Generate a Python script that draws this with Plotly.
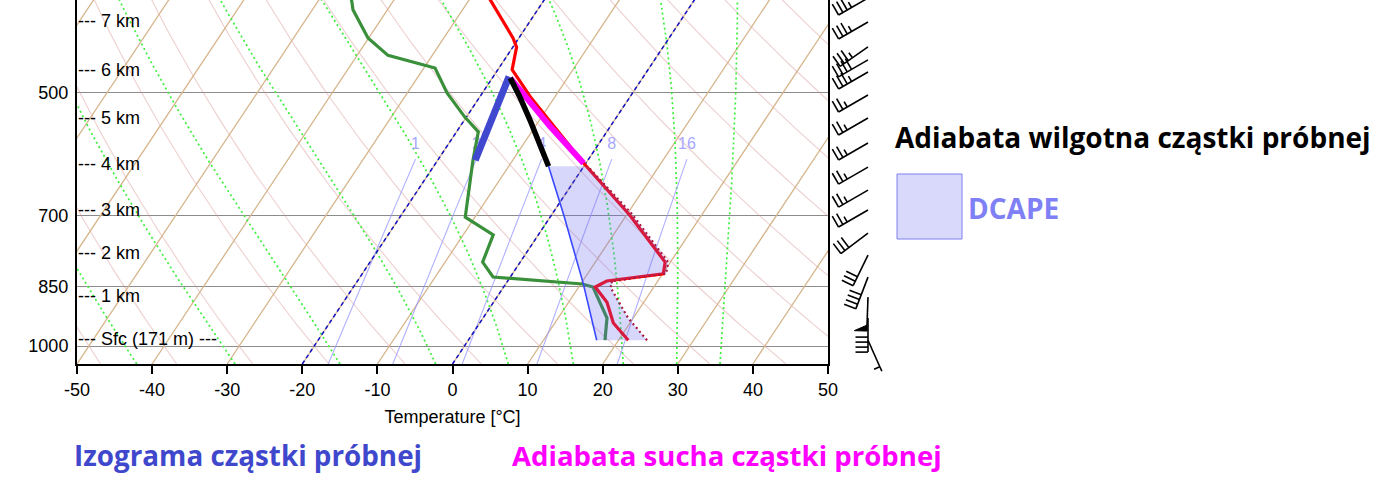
import numpy as np
import plotly.graph_objects as go

# ---------------- sounding data ----------------
temp_p = [984, 939, 887, 851, 844, 837, 821, 795, 699, 606, 506, 470, 442, 431, 389, 370]
temp_T = [21.3, 17.8, 15.1, 12.2, 12.7, 13.2, 20.1, 19.3, 10.4, -0.4, -13.3, -18.1, -19.5, -20.8, -27.1, -30.2]

dewp_p = [984, 926, 851, 844, 828, 795, 738, 703, 602, 557, 535, 501, 468, 452, 431, 399, 389, 375]
dewp_T = [18.2, 16.5, 11.9, 10.2, -2.3, -5.0, -6.0, -11.3, -15.3, -17.1, -20.2, -24.7, -28.5, -35.9, -40.1, -44.6, -45.6, -47.5]

virt_p = [984, 926, 851, 842, 838, 820, 815, 795, 697, 612]
virt_T = [23.8, 19.3, 14.2, 14.2, 13.8, 20.5, 20.3, 19.7, 10.6, 0.5]

# downdraft (DCAPE) parcel path
dd_p = [612, 700, 843, 984]
dd_T = [-4.7, 1.7, 10.3, 17.1]

# parcel lines
dry_parcel_p = [607, 549, 481]
dry_parcel_T = [-0.3, -8.0, -17.6]
moist_parcel_p = [481, 506, 539, 575, 612]
moist_parcel_T = [-17.6, -14.7, -11.3, -7.9, -4.7]
mix_parcel_p = [602, 535, 479]
mix_parcel_T = [-15.0, -16.45, -17.9]

# wind barbs
wind_p = [386.5, 412.6, 441.7, 457.7, 473.0, 503.7, 536.4, 574.2, 613.3, 653.0, 689.6, 734.5, 779.9, 828.2, 874.7, 926.3, 984]
wind_dir = [240, 240, 235, 240, 240, 240, 240, 240, 240, 240, 240, 233, 206, 201, 182, 180, 156]
wind_spd = [35, 35, 35, 40, 35, 25, 25, 25, 25, 25, 25, 30, 30, 40, 50, 40, 5]

# diagram background definitions
isotherms = list(range(-90, 51, 10))
highlight_isotherms = [-20, 0]
dry_adiabats_C = list(range(-50, 121, 10))
moist_start_T = [-42.05, -28.96, -14.98, -2.24, 7.43, 16.09, 22.74, 29.85, 35.62]  # at 1050 hPa
mixing_ratios = [1, 2, 4, 8, 16]
isobars = [500, 700, 850, 1000]
height_p = [411.5, 470.4, 536.4, 608.2, 689.7, 775.6, 872.3, 981]
height_txt = ["--- 7 km", "--- 6 km", "--- 5 km", "--- 4 km", "--- 3 km", "--- 2 km", "--- 1 km", "--- Sfc (171 m) ---"]
x_ticks = list(range(-50, 51, 10))

# ---------------- layout constants ----------------
W, H = 1386, 485
L_PX, R_PX = 77, 828
BOT_PX = 364
AREA_BOT = 386
P_BOT, P_TOP = 1050.0, 388.6
K_SKEW = 74.6
PPD = BOT_PX / (np.log10(P_BOT) - np.log10(P_TOP))
STATION_X = 868
STAFF, FEATH, SPACE, PEN_W = 34, 12.5, 5, 6
AX_FONT = dict(family="Liberation Sans", size=18, color="black")

def skx(T, p):
    return np.asarray(T, float) + K_SKEW * np.log10(P_BOT / np.asarray(p, float))

Rd, Cp, Lv, EPS = 287.04, 1005.7, 2.501e6, 0.622
def es(Tc):
    return 6.112 * np.exp(17.67 * Tc / (Tc + 243.5))
def dTdlnp(T, p):
    e = es(T - 273.15)
    rs = EPS * e / (p - e)
    return (Rd * T + Lv * rs) / (Cp + Lv * Lv * rs * EPS / (Rd * T * T))
def moist_line(T0c):
    lnp = np.arange(np.log(P_BOT), np.log(370), -0.01)
    T = T0c + 273.15
    Ts = [T]
    for i in range(len(lnp) - 1):
        h = lnp[i + 1] - lnp[i]
        pm = np.exp(lnp[i] + 0.5 * h)
        k1 = dTdlnp(T, np.exp(lnp[i]))
        k2 = dTdlnp(T + 0.5 * h * k1, pm)
        k3 = dTdlnp(T + 0.5 * h * k2, pm)
        k4 = dTdlnp(T + h * k3, np.exp(lnp[i + 1]))
        T = T + h * (k1 + 2 * k2 + 2 * k3 + k4) / 6
        Ts.append(T)
    return np.exp(lnp), np.array(Ts) - 273.15

def td_from_w(w, p):
    e = w * p / (622.0 + w)
    a = np.log(e / 6.112)
    return 243.5 * a / (17.67 - a)

fig = go.Figure()
pp = np.exp(np.linspace(np.log(P_BOT), np.log(370), 80))

# dry adiabats
for th in dry_adiabats_C:
    T = (th + 273.15) * (pp / 1000.0) ** 0.2857 - 273.15
    fig.add_trace(go.Scatter(x=skx(T, pp), y=pp, mode="lines",
                             line=dict(color="rgba(215,140,140,0.42)", width=1.1)))
# isotherms
for t in isotherms:
    fig.add_trace(go.Scatter(x=skx([t, t], [P_BOT, 370]), y=[P_BOT, 370], mode="lines",
                             line=dict(color="#d6b58c", width=1.3)))
# moist adiabats
for t0 in moist_start_T:
    mp, mT = moist_line(t0)
    fig.add_trace(go.Scatter(x=skx(mT, mp), y=mp, mode="lines",
                             line=dict(color="#3df03d", width=1.7, dash="2px,3px")))
# mixing ratio lines
mrp = np.linspace(P_BOT, 600, 30)
lab_x, lab_y, lab_t = [], [], []
for w in mixing_ratios:
    T = td_from_w(w, mrp)
    fig.add_trace(go.Scatter(x=skx(T, mrp), y=mrp, mode="lines",
                             line=dict(color="rgba(150,150,255,0.75)", width=1.1)))
    lab_x.append(float(skx(td_from_w(w, 600.0), 600.0)))
    lab_y.append(600.0 * 10 ** (-6 / PPD))
    lab_t.append(str(w))
fig.add_trace(go.Scatter(x=lab_x, y=lab_y, mode="text", text=lab_t, textposition="top center",
                         textfont=dict(color="#a8a8ff", size=16, family="Liberation Sans")))
# highlighted isotherms
for t in highlight_isotherms:
    fig.add_trace(go.Scatter(x=skx([t, t], [P_BOT, 370]), y=[P_BOT, 370], mode="lines",
                             line=dict(color="#1010c8", width=1.5, dash="4px,3px")))

# sounding
fig.add_trace(go.Scatter(x=skx(dewp_T, dewp_p), y=dewp_p, mode="lines",
                         line=dict(color="#3a903a", width=3.2)))
fig.add_trace(go.Scatter(x=skx(temp_T, temp_p), y=temp_p, mode="lines",
                         line=dict(color="#ff0000", width=3.2)))
fig.add_trace(go.Scatter(x=skx(virt_T, virt_p), y=virt_p, mode="lines",
                         line=dict(color="#b0102a", width=2.2, dash="2px,3px")))
fig.add_trace(go.Scatter(x=skx(dd_T, dd_p), y=dd_p, mode="lines",
                         line=dict(color="#3345ff", width=1.6)))
# DCAPE area: down the downdraft path, back up the virtual temperature profile
fill_p = list(dd_p) + list(virt_p) + [dd_p[0]]
fill_T = list(dd_T) + list(virt_T) + [dd_T[0]]
fig.add_trace(go.Scatter(x=skx(fill_T, fill_p), y=fill_p, mode="lines", fill="toself",
                         fillcolor="rgba(100,100,240,0.26)", line=dict(width=0)))
# parcel lines
fig.add_trace(go.Scatter(x=skx(dry_parcel_T, dry_parcel_p), y=dry_parcel_p, mode="lines",
                         line=dict(color="#ff00ff", width=6)))
fig.add_trace(go.Scatter(x=skx(mix_parcel_T, mix_parcel_p), y=mix_parcel_p, mode="lines",
                         line=dict(color="#4048d0", width=7)))
fig.add_trace(go.Scatter(x=skx(moist_parcel_T, moist_parcel_p), y=moist_parcel_p, mode="lines",
                         line=dict(color="#000000", width=5.5)))

# wind barbs (pixel-unit x2 axis, same log-pressure scale)
bx, by = [], []
for p0, d, s in zip(wind_p, wind_dir, wind_spd):
    sx, sy = np.sin(np.radians(d)), -np.cos(np.radians(d))
    fx, fy = -sy, sx
    ex, ey = STAFF * sx, STAFF * sy
    segs = [[(0, 0), (ex, ey)]]
    tris = []
    rem = int(5 * round(s / 5.0))
    pos = 0.0
    while rem >= 50:
        a = (ex - pos * sx, ey - pos * sy)
        b = (ex - (pos + PEN_W) * sx, ey - (pos + PEN_W) * sy)
        apex = (a[0] + FEATH * fx, a[1] + FEATH * fy)
        tris.append([a, apex, b, a])
        pos += PEN_W + 1.5
        rem -= 50
    while rem >= 10:
        a = (ex - pos * sx, ey - pos * sy)
        segs.append([a, (a[0] + FEATH * fx, a[1] + FEATH * fy)])
        pos += SPACE
        rem -= 10
    if rem >= 5:
        if pos == 0:
            pos = SPACE
        a = (ex - pos * sx, ey - pos * sy)
        segs.append([a, (a[0] + 0.5 * FEATH * fx, a[1] + 0.5 * FEATH * fy)])
    for seg in segs:
        for (u, v) in seg:
            bx.append(STATION_X + u)
            by.append(p0 * 10 ** (v / PPD))
        bx.append(None)
        by.append(None)
    for tri in tris:
        fig.add_trace(go.Scatter(x=[STATION_X + u for u, v in tri],
                                 y=[p0 * 10 ** (v / PPD) for u, v in tri],
                                 mode="lines", fill="toself", fillcolor="black",
                                 line=dict(color="black", width=1), xaxis="x2", yaxis="y2"))
fig.add_trace(go.Scatter(x=bx, y=by, mode="lines", line=dict(color="black", width=1.6),
                         xaxis="x2", yaxis="y2"))

# ---------------- annotations ----------------
ann = []
for p, t in zip(height_p, height_txt):
    ann.append(dict(x=-50, y=np.log10(p), xref="x", yref="y", text=t, showarrow=False,
                    xanchor="left", yanchor="middle", xshift=-1, font=AX_FONT))

AW = W - L_PX
def px(x):
    return (x - L_PX) / AW
def py(y):
    return 1 - y / AREA_BOT

LEG_FONT = "Open Sans"
ann += [
    dict(x=px(893), y=py(137), xref="paper", yref="paper", text="<b>Adiabata wilgotna cząstki próbnej</b>",
         showarrow=False, xanchor="left", yanchor="middle",
         font=dict(family=LEG_FONT, size=28, color="black")),
    dict(x=px(966), y=py(208), xref="paper", yref="paper", text="<b>DCAPE</b>",
         showarrow=False, xanchor="left", yanchor="middle",
         font=dict(family=LEG_FONT, size=28, color="#8080f6")),
    dict(x=px(72), y=py(455), xref="paper", yref="paper", text="<b>Izograma cząstki próbnej</b>",
         showarrow=False, xanchor="left", yanchor="middle",
         font=dict(family=LEG_FONT, size=27.8, color="#3f48cc")),
    dict(x=px(510), y=py(455), xref="paper", yref="paper", text="<b>Adiabata sucha cząstki próbnej</b>",
         showarrow=False, xanchor="left", yanchor="middle",
         font=dict(family=LEG_FONT, size=27.6, color="#ff00ff")),
]
shapes = [dict(type="rect", xref="paper", yref="paper", x0=px(897), x1=px(962), y0=py(239), y1=py(174),
               fillcolor="#d9d9fb", line=dict(color="#7f7ff5", width=1))]

xd = (R_PX - L_PX) / AW
fig.update_layout(
    autosize=False,
    width=W, height=H, margin=dict(l=L_PX, r=0, t=0, b=H - AREA_BOT, pad=0),
    paper_bgcolor="white", plot_bgcolor="white", showlegend=False, hovermode=False,
    annotations=ann, shapes=shapes,
    xaxis=dict(domain=[0, xd], range=[-50, 50], anchor="y", showgrid=False, zeroline=False,
               automargin=False,
               tickvals=x_ticks, ticktext=[str(v) for v in x_ticks], ticks="outside", ticklen=8,
               tickwidth=1.5, tickcolor="black", showline=True, linecolor="black", linewidth=2,
               tickfont=AX_FONT,
               title=dict(text="Temperature [°C]", standoff=12, font=AX_FONT)),
    yaxis=dict(domain=[(AREA_BOT - BOT_PX) / AREA_BOT, 1], type="log",
               range=[np.log10(P_BOT), np.log10(P_TOP)], anchor="x", automargin=False,
               tickvals=isobars, ticktext=[str(v) for v in isobars], ticks="",
               showgrid=True, gridcolor="#8c8c8c", gridwidth=1, zeroline=False,
               showline=True, linecolor="black", linewidth=2, mirror=True,
               ticklabelstandoff=3, tickfont=AX_FONT),
    xaxis2=dict(domain=[xd, 1], range=[R_PX, W], anchor="y2", visible=False, automargin=False),
    yaxis2=dict(domain=[0, 1], type="log", automargin=False,
                range=[np.log10(P_BOT) + (AREA_BOT - BOT_PX) / PPD, np.log10(P_TOP)],
                anchor="x2", visible=False),
)
fig.write_html("out.html",
               config={"displayModeBar": False, "responsive": False},
               post_script="document.body.style.margin='0';document.body.style.overflow='hidden';")
